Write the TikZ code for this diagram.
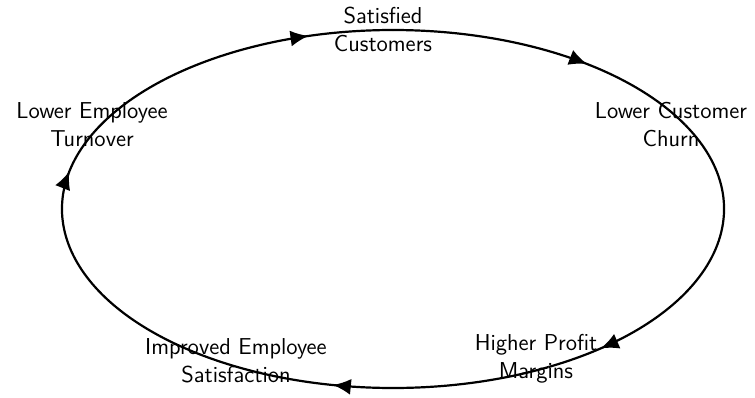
\documentclass[tikz,border=0pt]{standalone}
\usepackage{tikz}
\usetikzlibrary{arrows.meta, decorations.markings}
\tikzstyle{label} = [align=center, font=\sffamily\fontsize{11.5}{14}\selectfont, inner sep=0pt]
\tikzstyle{flow} = [line width=1.1pt, decoration={markings, mark=at position #1 with {\arrow{Latex[length=9pt,width=8pt]}}}, postaction={decorate}]
\begin{document}
\begin{tikzpicture}[x=0.5pt, y=0.5pt]
		\useasboundingbox (-393,-188) rectangle (362,209);
		% points on the loop
		\coordinate (satp) at (90:331 and 179);
		\coordinate (churnp) at (28:331 and 179);
		\coordinate (profitp) at (-62:331 and 179);
		\coordinate (improvedp) at (-125:331 and 179);
		\coordinate (turnoverp) at (155:331 and 179);
		% texts
		\node (sat) [label] at (-10,180) {Satisfied\\Customers};
		\node (churn) [label] at (278,84) {Lower Customer\\Churn};
		\node (profit) [label] at (143,-150) {Higher Profit\\Margins};
		\node (improved) [label] at (-157,-152) {Improved Employee\\Satisfaction};
		\node (turnover) [label] at (-301,84) {Lower Employee\\Turnover};
		% loop
		\draw [flow=0.74] (turnoverp) arc[start angle=155, end angle=90, x radius=331, y radius=179];
		\draw [flow=0.63] (satp) arc[start angle=90, end angle=28, x radius=331, y radius=179];
		\draw [flow=0.84] (churnp) arc[start angle=28, end angle=-62, x radius=331, y radius=179];
		\draw [flow=0.62] (profitp) arc[start angle=-62, end angle=-125, x radius=331, y radius=179];
		\draw [flow=0.85] (improvedp) arc[start angle=-125, end angle=-205, x radius=331, y radius=179];
	\end{tikzpicture}
\end{document}
